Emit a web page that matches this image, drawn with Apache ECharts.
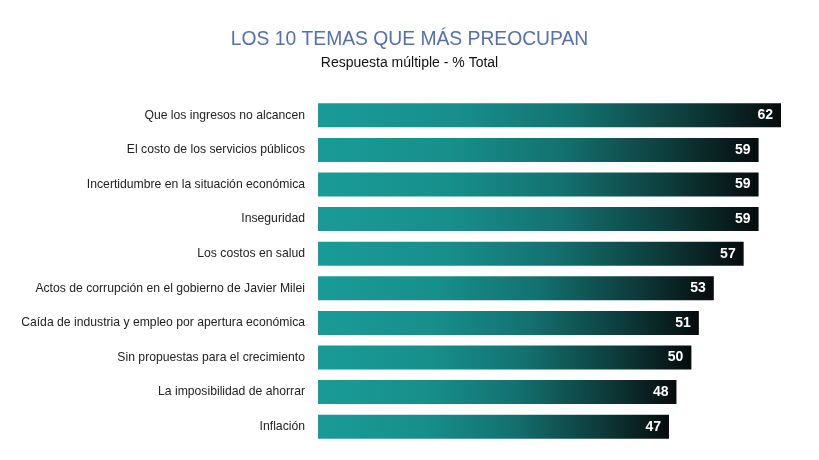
<!DOCTYPE html>
<html>
<head>
<meta charset="utf-8">
<script src="https://cdn.jsdelivr.net/npm/echarts@6/dist/echarts.min.js"></script>
<style>
  html, body { margin: 0; padding: 0; background: #fff; }
  #chart { width: 819px; height: 460px; }
</style>
</head>
<body>
<div id="chart"></div>
<script>
var temas = [
  'Que los ingresos no alcancen',
  'El costo de los servicios públicos',
  'Incertidumbre en la situación económica',
  'Inseguridad',
  'Los costos en salud',
  'Actos de corrupción en el gobierno de Javier Milei',
  'Caída de industria y empleo por apertura económica',
  'Sin propuestas para el crecimiento',
  'La imposibilidad de ahorrar',
  'Inflación'
];
var valores = [62, 59, 59, 59, 57, 53, 51, 50, 48, 47];

var chart = echarts.init(document.getElementById('chart'));

var option = {
  backgroundColor: '#fff',
  animation: false,
  title: [{
    text: 'LOS 10 TEMAS QUE MÁS PREOCUPAN',
    left: 'center',
    top: 25,
    textStyle: {
      fontFamily: 'Liberation Sans',
      fontSize: 19.3,
      fontWeight: 'normal',
      color: '#5470b0'
    }
  }, {
    text: 'Respuesta múltiple - % Total',
    left: 'center',
    top: 51,
    textStyle: {
      fontFamily: 'Liberation Sans',
      fontSize: 14,
      fontWeight: 'normal',
      color: '#111'
    }
  }],
  grid: {
    left: 318,
    right: 38,
    top: 98,
    bottom: 16,
    containLabel: false
  },
  xAxis: {
    type: 'value',
    min: 0,
    max: 62,
    show: false
  },
  yAxis: {
    type: 'category',
    inverse: true,
    data: temas,
    axisLine: { show: false },
    axisTick: { show: false },
    axisLabel: {
      margin: 13,
      fontFamily: 'Liberation Sans',
      fontSize: 12.2,
      color: '#222'
    }
  },
  series: [{
    type: 'bar',
    data: valores,
    barWidth: 24,
    itemStyle: {
      color: new echarts.graphic.LinearGradient(0, 0, 1, 0, [
        { offset: 0, color: '#199b98' },
        { offset: 0.3, color: '#178f8b' },
        { offset: 0.55, color: '#137270' },
        { offset: 0.8, color: '#0d3c3b' },
        { offset: 1, color: '#070b0c' }
      ])
    },
    label: {
      show: true,
      position: 'insideRight',
      distance: 8,
      color: '#fff',
      fontFamily: 'Liberation Sans',
      fontWeight: 'bold',
      fontSize: 14
    }
  }]
};

chart.setOption(option);
window.addEventListener('resize', function () {
  chart.resize();
});
</script>
</body>
</html>
